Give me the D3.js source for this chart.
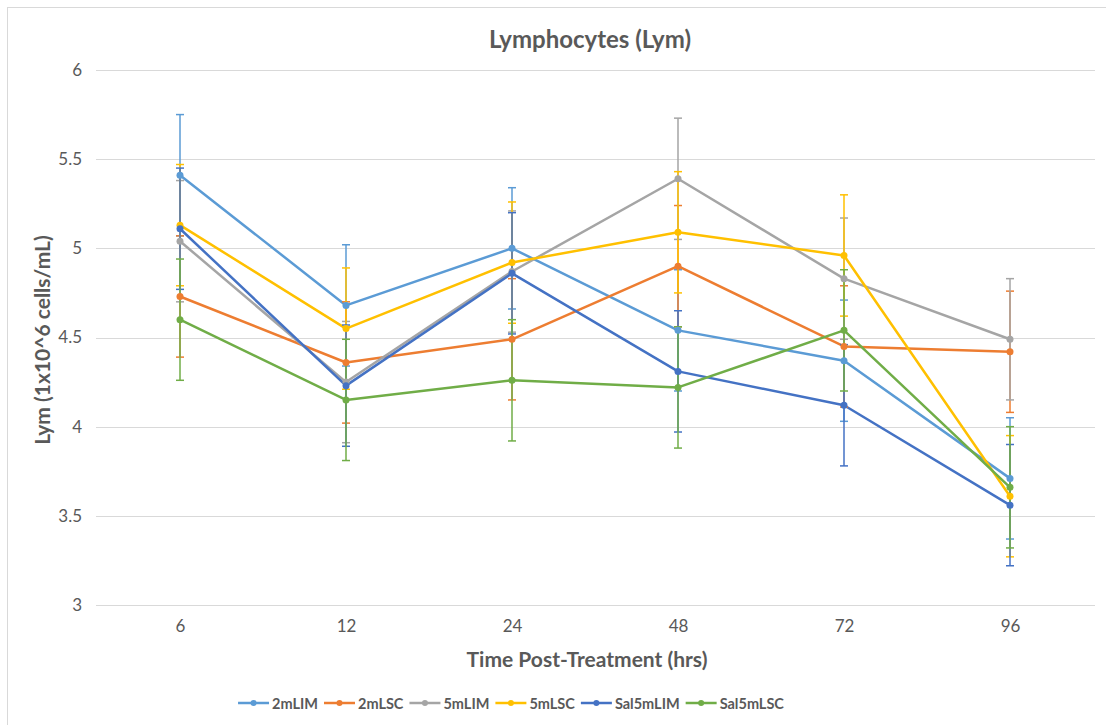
<!DOCTYPE html>
<html>
<head>
<meta charset="utf-8">
<script src="https://cdn.jsdelivr.net/npm/d3@7"></script>
<style>
  html, body { margin: 0; padding: 0; background: #fff; }
  svg { display: block; font-family: Lato, "Liberation Sans", sans-serif; }
</style>
</head>
<body>
<script>
const categories = ["6", "12", "24", "48", "72", "96"];
const seriesNames = ["2mLIM", "2mLSC", "5mLIM", "5mLSC", "Sal5mLIM", "Sal5mLSC"];
const seriesColors = ["#5B9BD5", "#ED7D31", "#A5A5A5", "#FFC000", "#4472C4", "#70AD47"];
const v2mLIM    = [5.41, 4.68, 5.00, 4.54, 4.37, 3.71];
const v2mLSC    = [4.73, 4.36, 4.49, 4.90, 4.45, 4.42];
const v5mLIM    = [5.04, 4.25, 4.87, 5.39, 4.83, 4.49];
const v5mLSC    = [5.13, 4.55, 4.92, 5.09, 4.96, 3.61];
const vSal5mLIM = [5.11, 4.23, 4.86, 4.31, 4.12, 3.56];
const vSal5mLSC = [4.60, 4.15, 4.26, 4.22, 4.54, 3.66];
const e2mLIM    = [0.34, 0.34, 0.34, 0.34, 0.34, 0.34];
const e2mLSC    = [0.34, 0.34, 0.34, 0.34, 0.34, 0.34];
const e5mLIM    = [0.34, 0.34, 0.34, 0.34, 0.34, 0.34];
const e5mLSC    = [0.34, 0.34, 0.34, 0.34, 0.34, 0.34];
const eSal5mLIM = [0.34, 0.34, 0.34, 0.34, 0.34, 0.34];
const eSal5mLSC = [0.34, 0.34, 0.34, 0.34, 0.34, 0.34];
const yTicks = [3, 3.5, 4, 4.5, 5, 5.5, 6];
const titleText = "Lymphocytes (Lym)";
const xTitle = "Time Post-Treatment (hrs)";
const yTitle = "Lym (1x10^6 cells/mL)";

const values = [v2mLIM, v2mLSC, v5mLIM, v5mLSC, vSal5mLIM, vSal5mLSC];
const errors = [e2mLIM, e2mLSC, e5mLIM, e5mLSC, eSal5mLIM, eSal5mLSC];
const series = seriesNames.map((n, i) => ({
  name: n, color: seriesColors[i],
  pts: categories.map((c, j) => ({ c, v: values[i][j], e: errors[i][j] }))
}));

const W = 1106, H = 725;
const svg = d3.select("body").append("svg").attr("width", W).attr("height", H);

// chart border
svg.append("rect").attr("x", 7.5).attr("y", 7.5).attr("width", W + 10).attr("height", H + 10)
  .attr("fill", "#fff").attr("stroke", "#d9d9d9").attr("stroke-width", 1);

const x = d3.scalePoint().domain(categories).range([180, 1010]);
const y = d3.scaleLinear().domain([3, 6]).range([605, 70]);
const plotL = 96, plotR = 1095;

const textColor = "#595959";

// gridlines
svg.append("g").selectAll("line").data(yTicks).join("line")
  .attr("x1", plotL).attr("x2", plotR)
  .attr("y1", d => Math.round(y(d)) + 0.5).attr("y2", d => Math.round(y(d)) + 0.5)
  .attr("stroke", "#d9d9d9").attr("stroke-width", 1);

// y axis labels
const yAxis = d3.axisLeft(y).tickValues(yTicks).tickSize(0).tickPadding(0).tickFormat(d => d3.format("")(d));
const gy = svg.append("g").attr("transform", `translate(82,0)`).call(yAxis);
gy.select(".domain").remove();
gy.selectAll("text").attr("fill", textColor).style("font-size", "17px").style("font-family", "Lato, sans-serif");

// x axis labels
const xAxis = d3.axisBottom(x).tickSize(0).tickPadding(0);
const gx = svg.append("g").attr("transform", `translate(0,620)`).call(xAxis);
gx.select(".domain").remove();
gx.selectAll("text").attr("fill", textColor).style("font-size", "17px").style("font-family", "Lato, sans-serif");

// titles
svg.append("text").attr("x", 590).attr("y", 48).attr("text-anchor", "middle")
  .attr("fill", textColor).style("font-size", "24px").style("font-weight", "bold").text(titleText);
svg.append("text").attr("x", 587).attr("y", 667).attr("text-anchor", "middle")
  .attr("fill", textColor).style("font-size", "21px").style("font-weight", "bold").text(xTitle);
svg.append("text").attr("transform", "translate(50,340) rotate(-90)").attr("text-anchor", "middle")
  .attr("fill", textColor).style("font-size", "21px").style("font-weight", "bold").text(yTitle);

// lines
const line = d3.line().x(d => x(d.c)).y(d => y(d.v));
const gS = svg.append("g");
series.forEach(s => {
  gS.append("path").datum(s.pts).attr("d", line).attr("fill", "none")
    .attr("stroke", s.color).attr("stroke-width", 2.5).attr("stroke-linejoin", "round");
});
// error bars
series.forEach(s => {
  const g = gS.append("g");
  s.pts.forEach(p => {
    const cx = x(p.c);
    g.append("line").attr("x1", cx).attr("x2", cx).attr("y1", y(p.v + p.e)).attr("y2", y(p.v - p.e))
      .attr("stroke", s.color).attr("stroke-width", 1.5);
    [p.v + p.e, p.v - p.e].forEach(val => {
      g.append("line").attr("x1", cx - 4).attr("x2", cx + 4).attr("y1", y(val)).attr("y2", y(val))
        .attr("stroke", s.color).attr("stroke-width", 1.5);
    });
  });
});
// markers
series.forEach(s => {
  gS.append("g").selectAll("circle").data(s.pts).join("circle")
    .attr("cx", d => x(d.c)).attr("cy", d => y(d.v)).attr("r", 3.5).attr("fill", s.color);
});

// legend (sequential layout)
const lg = svg.append("g").attr("transform", "translate(0,703)");
const symW = 31, symGap = 3, itemGap = 6;
const items = series.map(s => {
  const g = lg.append("g");
  g.append("line").attr("x1", 0).attr("x2", symW).attr("y1", 0).attr("y2", 0)
    .attr("stroke", s.color).attr("stroke-width", 2.5);
  g.append("circle").attr("cx", symW / 2).attr("cy", 0).attr("r", 3).attr("fill", s.color);
  const t = g.append("text").attr("x", symW + symGap).attr("y", 5.5).attr("fill", textColor)
    .style("font-size", "14.5px").style("font-weight", "bold").text(s.name);
  return { g, w: symW + symGap + t.node().getComputedTextLength() };
});
const total = d3.sum(items, d => d.w) + itemGap * (items.length - 1);
let cx0 = 511 - total / 2;
items.forEach(it => { it.g.attr("transform", `translate(${cx0},0)`); cx0 += it.w + itemGap; });
</script>
</body>
</html>
